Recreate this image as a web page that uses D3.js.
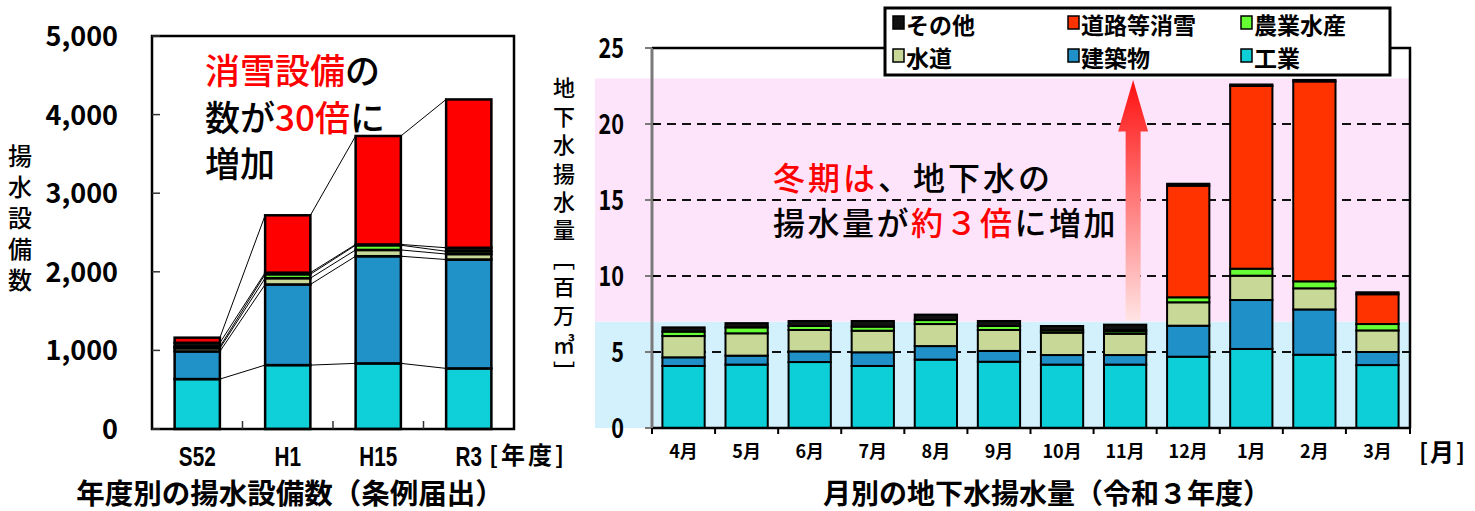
<!DOCTYPE html>
<html><head><meta charset="utf-8">
<script src="https://cdn.jsdelivr.net/npm/d3@7"></script>
<style>body{margin:0;background:#fff;} svg{display:block;}</style>
</head><body>
<script>
// ---------- DATA ----------
const years = ["S52", "H1", "H15", "R3"];
const leftKeys = ["工業", "建築物", "水道", "農業水産", "その他", "道路等消雪"];
const leftKogyo    = [635, 813, 835, 771];
const leftKenchiku = [352, 1026, 1363, 1385];
const leftSuido    = [40, 80, 80, 70];
const leftNogyo    = [20, 50, 60, 35];
const leftSonota   = [50, 20, 10, 45];
const leftDoro     = [65, 730, 1380, 1887];
const leftTicks = [0, 1000, 2000, 3000, 4000, 5000];

const months = ["4月","5月","6月","7月","8月","9月","10月","11月","12月","1月","2月","3月"];
const rightKeys = ["工業", "建築物", "水道", "農業水産", "道路等消雪", "その他"];
const rKogyo    = [4.08, 4.17, 4.34, 4.08, 4.50, 4.36, 4.17, 4.17, 4.69, 5.20, 4.82, 4.14];
const rKenchiku = [0.57, 0.59, 0.70, 0.90, 0.89, 0.71, 0.63, 0.63, 2.04, 3.22, 2.98, 0.86];
const rSuido    = [1.40, 1.47, 1.41, 1.42, 1.45, 1.38, 1.47, 1.40, 1.54, 1.60, 1.39, 1.42];
const rNogyo    = [0.29, 0.39, 0.26, 0.27, 0.26, 0.26, 0.15, 0.16, 0.33, 0.46, 0.46, 0.42];
const rDoro     = [0, 0, 0, 0, 0, 0, 0, 0.09, 7.34, 12.02, 13.15, 1.96];
const rSonota   = [0.28, 0.28, 0.33, 0.37, 0.36, 0.33, 0.29, 0.35, 0.13, 0.10, 0.10, 0.13];
const rightTicks = [0, 5, 10, 15, 20, 25];
const bandLimits = [0, 7, 23];  // light blue: 0-7, pink: 7-23

const legendRows = [["その他", "道路等消雪", "農業水産"], ["水道", "建築物", "工業"]];

// ---------- STYLE ----------
const leftColors = {"工業":"#0fd0d8","建築物":"#2192c8","水道":"#c8d898","農業水産":"#66ff33","その他":"#111111","道路等消雪":"#ff0000"};
const rightColors = {"工業":"#0ccfd8","建築物":"#2090c8","水道":"#c8d896","農業水産":"#66ff33","道路等消雪":"#ff3300","その他":"#111111"};
const bandColors = ["#d2f1fc", "#fde4fb"];
const FONT = "'Noto Sans CJK JP','Noto Sans',sans-serif";
const LATIN = "'Liberation Sans',Arial,sans-serif";

const W = 1475, H = 511;
const svg = d3.select("body").append("svg").attr("width", W).attr("height", H)
  .style("font-family", FONT);

function ctext(g, str, x, y, size, opt = {}) {
  const t = g.append("text")
    .attr("transform", `translate(${x},${y}) scale(${opt.sx || 1},1)`)
    .attr("font-size", size)
    .attr("font-weight", opt.weight || 700)
    .attr("text-anchor", opt.anchor || "start")
    .attr("fill", opt.fill || "#000")
    .text(str);
  if (opt.ls) t.attr("letter-spacing", opt.ls);
  if (opt.db) t.attr("dominant-baseline", opt.db);
  if (opt.family) t.style("font-family", opt.family);
  return t;
}
function vtext(g, str, x, y, size, ls) {
  return g.append("text").attr("x", x).attr("y", y)
    .style("writing-mode", "vertical-rl")
    .attr("font-size", size).attr("font-weight", 500)
    .attr("letter-spacing", ls).text(str);
}

// ================= LEFT CHART =================
const gL = svg.append("g");
const xL = d3.scaleBand().domain(years).range([152, 514]).paddingInner(0.5).paddingOuter(0.25);
const yL = d3.scaleLinear().domain([0, 5000]).range([429, 36]);

const leftTable = years.map((y, i) => ({
  year: y, "工業": leftKogyo[i], "建築物": leftKenchiku[i], "水道": leftSuido[i],
  "農業水産": leftNogyo[i], "その他": leftSonota[i], "道路等消雪": leftDoro[i]
}));
const leftStack = d3.stack().keys(leftKeys)(leftTable);

// connectors
leftStack.forEach(layer => {
  for (let i = 0; i < years.length - 1; i++) {
    gL.append("line")
      .attr("x1", xL(years[i]) + xL.bandwidth()).attr("y1", yL(layer[i][1]))
      .attr("x2", xL(years[i + 1])).attr("y2", yL(layer[i + 1][1]))
      .attr("stroke", "#000").attr("stroke-width", 1);
  }
});

// bars
leftStack.forEach(layer => {
  gL.selectAll(null).data(layer.filter(d => d[1] - d[0] > 0)).join("rect")
    .attr("x", d => xL(d.data.year)).attr("width", xL.bandwidth())
    .attr("y", d => yL(d[1])).attr("height", d => yL(d[0]) - yL(d[1]))
    .attr("fill", leftColors[layer.key]).attr("stroke", "#000").attr("stroke-width", 2.5);
});

// frame
gL.append("rect").attr("x", 152).attr("y", yL(5000)).attr("width", 514 - 152)
  .attr("height", yL(0) - yL(5000)).attr("fill", "none").attr("stroke", "#000").attr("stroke-width", 2.5);

// y ticks + labels
leftTicks.forEach(v => {
  gL.append("line").attr("x1", 152).attr("x2", 160).attr("y1", yL(v)).attr("y2", yL(v))
    .attr("stroke", "#333").attr("stroke-width", 1.5);
  ctext(gL, d3.format(",")(v), 118, yL(v) + 10, 27, {anchor: "end"});
});
// x ticks at band boundaries
years.slice(1).forEach(y => {
  const bx = xL(y) - xL.step() * xL.paddingInner() / 2;
  gL.append("line").attr("x1", bx).attr("x2", bx).attr("y1", yL(0)).attr("y2", yL(0) - 8)
    .attr("stroke", "#333").attr("stroke-width", 1.5);
});
// x labels
years.forEach(y => ctext(gL, y, xL(y) + xL.bandwidth() / 2, 466, 28,
  {anchor: "middle", sx: 0.74, family: LATIN}));
ctext(gL, "[年度]", 489, 464, 24, {ls: 3});
// y title (vertical)
vtext(gL, "揚水設備数", 20, 144, 24, 7);
// title
ctext(gL, "年度別の揚水設備数（条例届出）", 290, 504, 28.5, {anchor: "middle"});

// annotation
{
  const t1 = gL.append("text").attr("x", 205).attr("y", 84).attr("font-size", 35).attr("font-weight", 500);
  t1.append("tspan").attr("fill", "#ff0000").text("消雪設備");
  t1.append("tspan").attr("fill", "#000").text("の");
  const t2 = gL.append("text").attr("x", 205).attr("y", 131).attr("font-size", 35).attr("font-weight", 500);
  t2.append("tspan").attr("fill", "#000").text("数が");
  t2.append("tspan").attr("fill", "#ff0000").text("30倍");
  t2.append("tspan").attr("fill", "#000").text("に");
  gL.append("text").attr("x", 205).attr("y", 177).attr("font-size", 35).attr("font-weight", 500).text("増加");
}

// ================= RIGHT CHART =================
const gR = svg.append("g");
const xR = d3.scaleBand().domain(months).range([652, 1409]).paddingInner(0.33).paddingOuter(0.165);
const yR = d3.scaleLinear().domain([0, 25]).range([428, 48]);
const xRight = xR.range()[1] + 1;

// background bands
for (let i = 0; i < bandLimits.length - 1; i++) {
  gR.append("rect").attr("x", 595).attr("width", xRight - 595)
    .attr("y", yR(bandLimits[i + 1])).attr("height", yR(bandLimits[i]) - yR(bandLimits[i + 1]))
    .attr("fill", bandColors[i]);
}
// dashed gridlines
rightTicks.filter(v => v > 0 && v < 25).forEach(v => {
  gR.append("line").attr("x1", 652).attr("x2", xRight).attr("y1", yR(v)).attr("y2", yR(v))
    .attr("stroke", "#111").attr("stroke-width", 2).attr("stroke-dasharray", "9,6");
});

// bars
const rightTable = months.map((m, i) => ({
  month: m, "工業": rKogyo[i], "建築物": rKenchiku[i], "水道": rSuido[i],
  "農業水産": rNogyo[i], "道路等消雪": rDoro[i], "その他": rSonota[i]
}));
const rightStack = d3.stack().keys(rightKeys)(rightTable);
rightStack.forEach(layer => {
  gR.selectAll(null).data(layer.filter(d => d[1] - d[0] > 0)).join("rect")
    .attr("x", d => xR(d.data.month)).attr("width", xR.bandwidth())
    .attr("y", d => yR(d[1])).attr("height", d => yR(d[0]) - yR(d[1]))
    .attr("fill", rightColors[layer.key]).attr("stroke", "#000").attr("stroke-width", 2);
});

// frame
gR.append("path").attr("d", `M652,${yR(25)}H${xRight}V${yR(0)}`)
  .attr("fill", "none").attr("stroke", "#000").attr("stroke-width", 2.5);
gR.append("line").attr("x1", 652).attr("x2", xRight).attr("y1", yR(0)).attr("y2", yR(0))
  .attr("stroke", "#000").attr("stroke-width", 2.5);
gR.append("line").attr("x1", 652).attr("x2", 652).attr("y1", yR(25)).attr("y2", yR(0))
  .attr("stroke", "#7a7a7a").attr("stroke-width", 3);

// y ticks
rightTicks.forEach(v => {
  gR.append("line").attr("x1", 645).attr("x2", 652).attr("y1", yR(v)).attr("y2", yR(v))
    .attr("stroke", "#7a7a7a").attr("stroke-width", 2);
  gR.append("line").attr("x1", 653).attr("x2", 660).attr("y1", yR(v)).attr("y2", yR(v))
    .attr("stroke", "#000").attr("stroke-width", 2);
  ctext(gR, String(v), 624, yR(v) + 10, 27, {anchor: "end", sx: 0.8});
});
// x ticks at band boundaries
const rBounds = months.map(m => xR(m) - xR.step() * xR.paddingInner() / 2);
rBounds[0] = 652;
rBounds.push(xRight);
rBounds.forEach(bx => {
  gR.append("line").attr("x1", bx).attr("x2", bx)
    .attr("y1", yR(0)).attr("y2", yR(0) + 6).attr("stroke", "#000").attr("stroke-width", 2);
});
// month labels
months.forEach(m => ctext(gR, m, xR(m) + xR.bandwidth() / 2, 458, 18, {anchor: "middle"}));
ctext(gR, "[月]", 1419, 461, 24, {ls: 2});

// y title vertical
vtext(gR, "地下水揚水量［百万㎥］", 564, 77, 22, 6.4);

// title
ctext(gR, "月別の地下水揚水量（令和３年度）", 1047, 504, 28, {anchor: "middle"});

// arrow
{
  const defs = svg.append("defs");
  const grad = defs.append("linearGradient").attr("id", "arrowGrad")
    .attr("x1", 0).attr("y1", 1).attr("x2", 0).attr("y2", 0);
  grad.append("stop").attr("offset", "0%").attr("stop-color", "#ffe4e4");
  grad.append("stop").attr("offset", "100%").attr("stop-color", "#ff1010");
  const ax = xR("11月") + xR.bandwidth() / 2 + 8;
  const yb = yR(7.05), yh = yR(19.5), yt = yR(22.9);
  gR.append("path")
    .attr("d", `M${ax - 7.5},${yb}V${yh}H${ax - 15}L${ax},${yt}L${ax + 15},${yh}H${ax + 7.5}V${yb}Z`)
    .attr("fill", "url(#arrowGrad)");
}

// annotation
{
  const t1 = gR.append("text").attr("x", 773).attr("y", 190).attr("font-size", 32)
    .attr("font-weight", 500).attr("letter-spacing", 3);
  t1.append("tspan").attr("fill", "#ff0000").text("冬期は");
  t1.append("tspan").attr("fill", "#000").text("、地下水の");
  const t2 = gR.append("text").attr("x", 773).attr("y", 235).attr("font-size", 32)
    .attr("font-weight", 500).attr("letter-spacing", 2.5);
  t2.append("tspan").attr("fill", "#000").text("揚水量が");
  t2.append("tspan").attr("fill", "#ff0000").text("約３倍");
  t2.append("tspan").attr("fill", "#000").text("に増加");
}

// legend
{
  const gLeg = svg.append("g");
  gLeg.append("rect").attr("x", 885).attr("y", 8).attr("width", 505).attr("height", 67)
    .attr("fill", "#fff").attr("stroke", "#000").attr("stroke-width", 3);
  const colX = [893, 1068, 1241], rowY = [23, 56];
  legendRows.forEach((row, r) => row.forEach((k, c) => {
    gLeg.append("rect").attr("x", colX[c]).attr("y", rowY[r] - 7).attr("width", 11).attr("height", 13)
      .attr("fill", rightColors[k]).attr("stroke", "#000").attr("stroke-width", 1.5);
    ctext(gLeg, k, colX[c] + 13, rowY[r] + 1, 23, {db: "central"});
  }));
}
</script>
</body></html>
